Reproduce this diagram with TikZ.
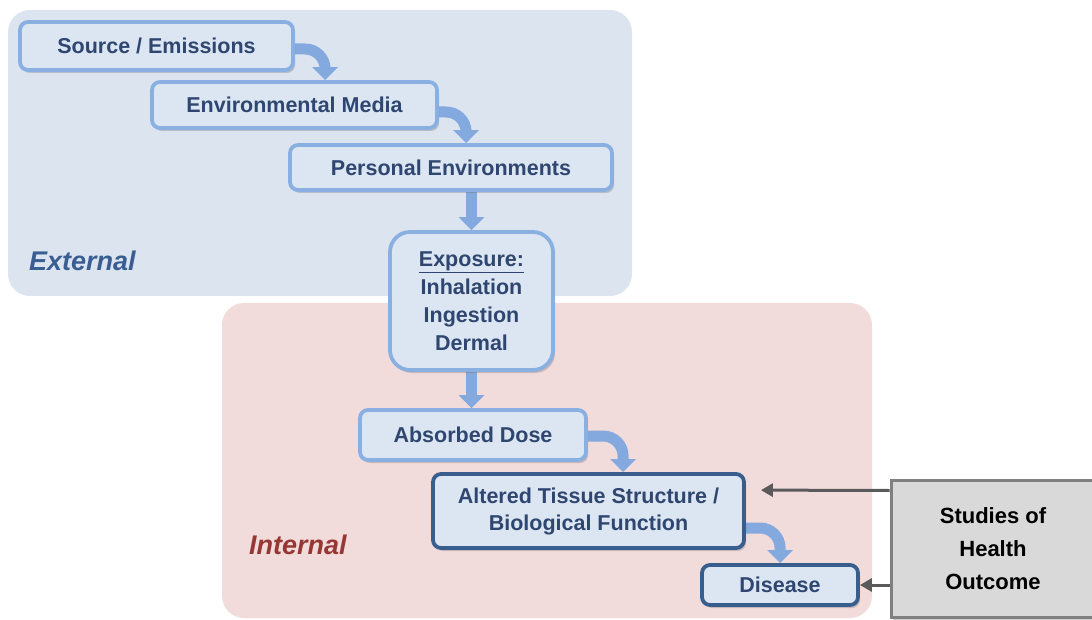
\documentclass[tikz,border=0pt]{standalone}
\usepackage{fontspec}
\setmainfont{Liberation Sans}
\usetikzlibrary{arrows.meta,shadows,calc}
\definecolor{extfill}{RGB}{220,228,240}
\definecolor{intfill}{RGB}{242,220,219}
\definecolor{boxfill}{RGB}{220,230,242}
\definecolor{lborder}{RGB}{138,176,226}
\definecolor{dborder}{RGB}{56,94,142}
\definecolor{blkcol}{RGB}{132,169,222}
\definecolor{txt}{RGB}{46,70,112}
\definecolor{exttxt}{RGB}{58,94,146}
\definecolor{inttxt}{RGB}{150,55,52}
\definecolor{grayarr}{RGB}{90,90,90}
\definecolor{studfill}{RGB}{217,217,217}
\definecolor{studborder}{RGB}{128,128,128}
\pgfdeclarelayer{regions}
\pgfdeclarelayer{arrows}
\pgfsetlayers{regions,arrows,main}
\begin{document}
\begin{tikzpicture}[x=1pt,y=-1pt,
  boxbase/.style={line width=3.8pt, fill=boxfill, rounded corners=8pt, text=txt,
    font=\fontsize{21.5}{27}\selectfont\bfseries, inner sep=0pt, align=center,
    drop shadow={shadow xshift=2pt, shadow yshift=-3pt, opacity=0.3, fill=black!60}},
  lbox/.style={boxbase, draw=lborder},
  dbox/.style={boxbase, draw=dborder},
  blk/.style={draw=blkcol, line width=11pt, -{Triangle[width=25pt,length=13pt]}},
  garr/.style={draw=grayarr, line width=3pt, -{Triangle[width=13pt,length=12pt]}},
  regionlabel/.style={font=\fontsize{27}{30}\selectfont\bfseries\itshape, anchor=base west, inner sep=0pt}
]
\useasboundingbox (0,0) rectangle (1092,620);

\begin{pgfonlayer}{regions}
  \fill[extfill, rounded corners=22pt] (8,10) rectangle (632,296);
  \fill[intfill, rounded corners=22pt] (222,303) rectangle (872,618);
\end{pgfonlayer}

\node[regionlabel, text=exttxt] (extlbl) at (29,271) {External};
\node[regionlabel, text=inttxt] (intlbl) at (249,554) {Internal};

\node[lbox, minimum width=273pt, minimum height=48pt] (src) at (156.5,46) {Source / Emissions};
\node[lbox, minimum width=285pt, minimum height=46pt] (envm) at (294.5,105) {Environmental Media};
\node[lbox, minimum width=322pt, minimum height=45pt] (pers) at (451,167.5) {Personal Environments};
\node[lbox, rounded corners=20pt, minimum width=163pt, minimum height=138pt, font=\fontsize{21.5}{28}\selectfont\bfseries] (expo) at (471.5,301) {\underline{Exposure:}\\Inhalation\\Ingestion\\Dermal};
\node[lbox, minimum width=226pt, minimum height=50pt] (absd) at (473,435) {Absorbed Dose};
\node[dbox, minimum width=311pt, minimum height=74pt] (alt) at (588.5,511) {Altered Tissue Structure /\\Biological Function};
\node[dbox, minimum width=156pt, minimum height=40pt] (dis) at (780,585) {Disease};
\node[draw=studborder, line width=3pt, fill=studfill, minimum width=204pt, minimum height=137pt,
  font=\fontsize{22}{33}\selectfont\bfseries, align=center, text=black, inner sep=0pt,
  drop shadow={shadow xshift=2pt, shadow yshift=-3pt, opacity=0.3, fill=black!60}] (stud) at (993,548.5) {Studies of\\Health\\Outcome};

\begin{pgfonlayer}{arrows}
  \draw[blk, rounded corners=20pt] ($(src.east)+(-3,3)$) -| ($(envm.north west)+(175,0)$);
  \draw[blk, rounded corners=20pt] ($(envm.east)+(-3,7)$) -| ($(pers.north west)+(178,0)$);
  \draw[blk] (pers.south -| expo.north) -- (expo.north);
  \draw[blk] (expo.south) -- (absd.north -| expo.south);
  \draw[blk, rounded corners=20pt] ($(absd.east)+(-3,1)$) -| ($(alt.north west)+(192,0)$);
  \draw[blk, rounded corners=20pt] ($(alt.east)+(-3,17)$) -| ($(dis.north west)+(80,0)$);
\end{pgfonlayer}

\draw[garr] ($(stud.north west)+(0,12)$) -- ($(alt.north east)+(15,18)$);
\draw[garr] (stud.west |- dis.east) -- (dis.east);
\end{tikzpicture}
\end{document}
